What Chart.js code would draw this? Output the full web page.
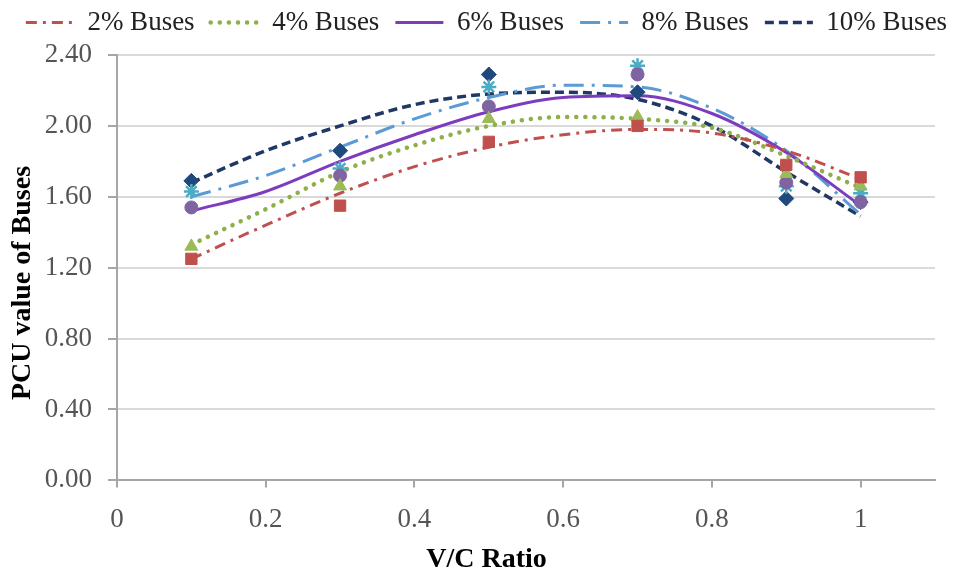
<!DOCTYPE html>
<html><head><meta charset="utf-8">
<script src="https://cdn.jsdelivr.net/npm/chart.js@4"></script>
<style>html,body{margin:0;padding:0;background:#fff;}canvas{display:block;}</style>
</head><body>
<canvas id="c" width="973" height="573"></canvas>
<script>
// Observed points
const vcRatio = [0.1, 0.3, 0.5, 0.7, 0.9, 1.0];
const pcu2  = [1.25, 1.55, 1.91, 2.00, 1.78, 1.71];
const pcu4  = [1.32, 1.66, 2.04, 2.05, 1.73, 1.66];
const pcu6  = [1.54, 1.72, 2.11, 2.29, 1.68, 1.57];
const pcu8  = [1.63, 1.76, 2.22, 2.34, 1.66, 1.62];
const pcu10 = [1.69, 1.86, 2.29, 2.19, 1.59, 1.57];
// Trend lines
const trendX  = [0.1, 0.2, 0.3, 0.4, 0.5, 0.6, 0.7, 0.8, 0.9, 1.0];
const trend2  = [1.25, 1.44, 1.62, 1.77, 1.88, 1.95, 1.98, 1.96, 1.86, 1.70];
const trend4  = [1.33, 1.53, 1.74, 1.89, 2.00, 2.05, 2.04, 1.99, 1.83, 1.65];
const trend6  = [1.52, 1.63, 1.80, 1.95, 2.08, 2.16, 2.17, 2.07, 1.85, 1.55];
const trend8  = [1.60, 1.72, 1.88, 2.04, 2.16, 2.23, 2.22, 2.10, 1.86, 1.50];
const trend10 = [1.68, 1.86, 2.00, 2.12, 2.18, 2.19, 2.15, 2.00, 1.74, 1.49];
const seriesNames = ['2% Buses', '4% Buses', '6% Buses', '8% Buses', '10% Buses'];
const yTicks = [0, 0.4, 0.8, 1.2, 1.6, 2.0, 2.4];
const xTicks = [0, 0.2, 0.4, 0.6, 0.8, 1.0];

const FONT = "'Liberation Serif', 'Times New Roman', serif";
const pts = ys => vcRatio.map((x, i) => ({x, y: ys[i]}));
const trd = ys => trendX.map((x, i) => ({x, y: ys[i]}));

const lineStyles = [
  {color: '#c0504d', dash: [11, 6, 3, 6], width: 3, cap: 'butt'},
  {color: '#8db04a', dash: [0.1, 9], width: 4.5, cap: 'round'},
  {color: '#7d3cbd', dash: [], width: 3, cap: 'butt'},
  {color: '#5b9bd5', dash: [20, 8, 3, 8], width: 3, cap: 'butt'},
  {color: '#1f3864', dash: [9, 5], width: 3.5, cap: 'butt'}
];
const markerStyles = [
  {color: '#c0504d', style: 'rect', r: 8},
  {color: '#9bbb59', style: 'triangle', r: 7.5},
  {color: '#8064a2', style: 'circle', r: 6.5},
  {color: '#4bacc6', style: 'star', r: 7.5},
  {color: '#1f497d', style: 'rectRot', r: 7.5}
];
const trends = [trend2, trend4, trend6, trend8, trend10];
const points = [pcu2, pcu4, pcu6, pcu8, pcu10];

const datasets = [];
trends.forEach((t, i) => {
  const s = lineStyles[i];
  datasets.push({
    type: 'line', label: seriesNames[i], data: trd(t),
    borderColor: s.color, backgroundColor: s.color, borderWidth: s.width,
    borderDash: s.dash, borderCapStyle: s.cap, pointRadius: 0, pointHoverRadius: 0,
    cubicInterpolationMode: 'monotone', fill: false, order: 2
  });
});
points.forEach((p, i) => {
  const m = markerStyles[i];
  datasets.push({
    type: 'scatter', label: seriesNames[i] + ' data', data: pts(p),
    pointStyle: m.style, pointRadius: m.r, pointHoverRadius: m.r,
    backgroundColor: m.color, borderColor: m.color, borderWidth: m.style === 'star' ? 2.5 : 1,
    showLine: false, order: 1
  });
});

new Chart(document.getElementById('c'), {
  data: {datasets},
  options: {
    responsive: false, animation: false,
    layout: {padding: {top: -7, right: 0, bottom: 0, left: 0}},
    plugins: {
      tooltip: {enabled: false},
      legend: {
        position: 'top',
        labels: {
          usePointStyle: true, pointStyle: 'line', pointStyleWidth: 48,
          padding: 16, color: '#222',
          font: {family: FONT, size: 27},
          generateLabels: chart => chart.data.datasets.slice(0, 5).map((ds, i) => ({
            text: ds.label, strokeStyle: ds.borderColor, fillStyle: ds.borderColor,
            lineWidth: ds.borderWidth, lineDash: ds.borderDash, lineCap: ds.borderCapStyle,
            pointStyle: 'line', datasetIndex: i, hidden: false, fontColor: '#222'
          }))
        }
      },
      title: {
        display: true, position: 'bottom', text: 'V/C Ratio', color: '#000',
        font: {family: FONT, size: 28, weight: 'bold'}, padding: {top: 4, bottom: -4}
      },
      subtitle: {
        display: true, position: 'left', text: 'PCU value of Buses', color: '#000',
        font: {family: FONT, size: 28, weight: 'bold'}, padding: {top: 6, bottom: 5.4}
      }
    },
    scales: {
      x: {
        type: 'linear', min: 0, max: 1.1,
        afterBuildTicks: s => { s.ticks = xTicks.map(v => ({value: v})); },
        afterFit: s => { s.height = 59; },
        ticks: {padding: 16, color: '#555', font: {family: FONT, size: 27},
                maxRotation: 0, autoSkip: false, callback: v => String(Number(Number(v).toFixed(1)))},
        grid: {drawOnChartArea: false, drawTicks: true, tickLength: 7, tickColor: '#a6a6a6', lineWidth: 2},
        border: {display: true, color: '#a6a6a6', width: 2}
      },
      y: {
        type: 'linear', min: 0, max: 2.4,
        afterBuildTicks: s => { s.ticks = yTicks.map(v => ({value: v})); },
        afterFit: s => { s.width = 72; },
        ticks: {padding: 16, color: '#555', font: {family: FONT, size: 27},
                callback: v => Number(v).toFixed(2)},
        grid: {color: '#d9d9d9', lineWidth: 2, tickLength: 9, tickColor: '#a6a6a6'},
        border: {display: true, color: '#a6a6a6', width: 2}
      },
      yRightSpace: {
        type: 'linear', position: 'right', min: 0, max: 1,
        afterFit: s => { s.width = 38; },
        ticks: {display: false}, grid: {display: false}, border: {display: false}
      },
      xTopSpace: {
        type: 'linear', position: 'top', min: 0, max: 1,
        afterFit: s => { s.height = 9; },
        ticks: {display: false}, grid: {display: false}, border: {display: false}
      }
    }
  }
});
</script></body></html>
